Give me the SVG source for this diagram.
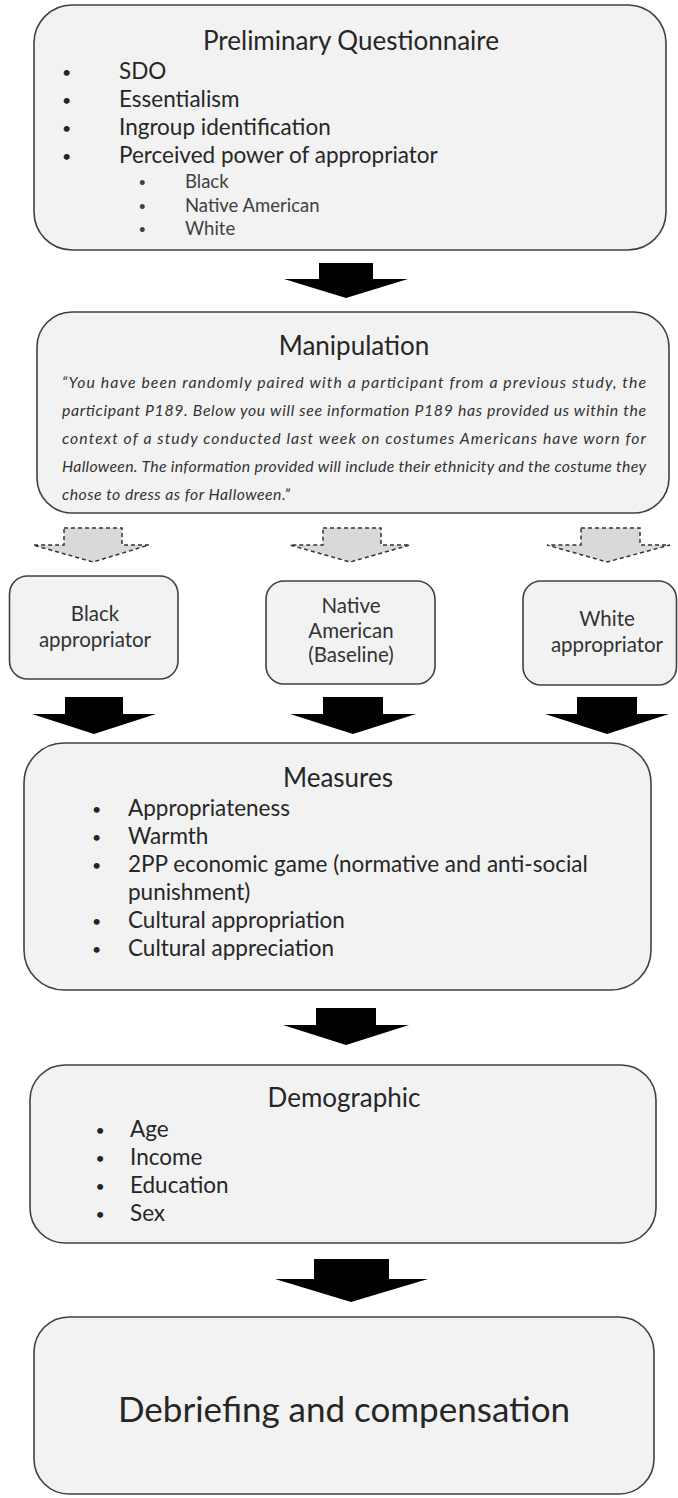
<svg xmlns="http://www.w3.org/2000/svg" width="678" height="1498" viewBox="0 0 678 1498">
<style>
.box{fill:#f2f2f2;stroke:#404040;stroke-width:1.6}
.t{font-family:Lato,"Open Sans","Liberation Sans",sans-serif;fill:#262626}
.title{font-size:26px;text-anchor:middle}
.item{font-size:22.5px}
.sub{font-size:18.5px;fill:#404040}
.it{font-size:15.8px;font-style:italic;fill:#333}
.small{font-size:20.5px;text-anchor:middle;fill:#333}
.big{font-size:35px;text-anchor:middle}
.b{font-size:16px}
.sb{font-size:13px}
.arr{fill:#000}
.darr{fill:#d9d9d9;stroke:#333;stroke-width:1.5;stroke-dasharray:4 3}
</style>
<rect width="678" height="1498" fill="#fff"/>
<g id="connectors">
<polygon class="arr" points="319,263 373,263 373,279 408,279 346,298 284,279 319,279"/>
<polygon class="darr" points="64,528 122,528 122,545 149,545 93,562 33,545 64,545"/>
<polygon class="darr" points="323,528 381,528 381,545 410,545 350,562 290,545 323,545"/>
<polygon class="darr" points="581,528 640,528 640,545 670,545 607,562 547,545 581,545"/>
<polygon class="arr" points="65,697 123,697 123,714 156,714 94,734 32,714 65,714"/>
<polygon class="arr" points="323,697 383,697 383,714 416,714 353,734 290,714 323,714"/>
<polygon class="arr" points="577,697 637,697 637,714 669,714 607,734 545,714 577,714"/>
<polygon class="arr" points="316,1008 376,1008 376,1025 409,1025 346,1045 283,1025 316,1025"/>
<polygon class="arr" points="314,1259 389,1259 389,1279 428,1279 351,1302 275,1279 314,1279"/>
</g>
<g id="preliminary">
<rect class="box" x="34" y="5" width="632" height="245" rx="38"/>
<text class="t title" x="351" y="50">Preliminary Questionnaire</text>
<g class="t">
<text class="b" x="62" y="77.5">•</text><text class="item" x="119" y="79">SDO</text>
<text class="b" x="62" y="105.5">•</text><text class="item" x="119" y="107">Essentialism</text>
<text class="b" x="62" y="133.5">•</text><text class="item" x="119" y="135">Ingroup identification</text>
<text class="b" x="62" y="161.5">•</text><text class="item" x="119" y="163">Perceived power of appropriator</text>
</g>
<g class="t sub">
<text class="sb" x="138.5" y="186.5">•</text><text x="185" y="188">Black</text>
<text class="sb" x="138.5" y="210.5">•</text><text x="185" y="212">Native American</text>
<text class="sb" x="138.5" y="233.5">•</text><text x="185" y="235">White</text>
</g>
</g>
<g id="manipulation">
<rect class="box" x="37" y="312" width="632" height="201" rx="35"/>
<text class="t title" x="354" y="355">Manipulation</text>
<g class="t it">
<text x="62" y="388" textLength="584" lengthAdjust="spacing">“You have been randomly paired with a participant from a previous study, the</text>
<text x="62" y="416" textLength="584" lengthAdjust="spacing">participant P189. Below you will see information P189 has provided us within the</text>
<text x="62" y="444" textLength="584" lengthAdjust="spacing">context of a study conducted last week on costumes Americans have worn for</text>
<text x="62" y="472" textLength="584" lengthAdjust="spacing">Halloween. The information provided will include their ethnicity and the costume they</text>
<text x="62" y="500" textLength="228" lengthAdjust="spacing">chose to dress as for Halloween.”</text>
</g>
</g>
<g id="black">
<rect class="box" x="9.5" y="576" width="168.5" height="103" rx="18"/>
<text class="t small" x="95" y="621">Black</text>
<text class="t small" x="95" y="647">appropriator</text>
</g>
<g id="native">
<rect class="box" x="266" y="581" width="169" height="103" rx="18"/>
<text class="t small" x="351" y="613">Native</text>
<text class="t small" x="351" y="638">American</text>
<text class="t small" x="351" y="662">(Baseline)</text>
</g>
<g id="white">
<rect class="box" x="523" y="581" width="153.5" height="104" rx="18"/>
<text class="t small" x="607" y="626">White</text>
<text class="t small" x="607" y="652">appropriator</text>
</g>
<g id="measures">
<rect class="box" x="24" y="743" width="627" height="247" rx="40"/>
<text class="t title" x="338" y="787">Measures</text>
<g class="t">
<text class="b" x="92" y="814.5">•</text><text class="item" x="128" y="816">Appropriateness</text>
<text class="b" x="92" y="842.5">•</text><text class="item" x="128" y="844">Warmth</text>
<text class="b" x="92" y="870.5">•</text><text class="item" x="128" y="872">2PP economic game (normative and anti-social</text>
<text class="item" x="128" y="900">punishment)</text>
<text class="b" x="92" y="926.5">•</text><text class="item" x="128" y="928">Cultural appropriation</text>
<text class="b" x="92" y="954.5">•</text><text class="item" x="128" y="956">Cultural appreciation</text>
</g>
</g>
<g id="demographic">
<rect class="box" x="30" y="1065" width="626" height="178" rx="35"/>
<text class="t title" x="344" y="1107">Demographic</text>
<g class="t">
<text class="b" x="95.5" y="1135.5">•</text><text class="item" x="130" y="1137">Age</text>
<text class="b" x="95.5" y="1163.5">•</text><text class="item" x="130" y="1165">Income</text>
<text class="b" x="95.5" y="1191.5">•</text><text class="item" x="130" y="1193">Education</text>
<text class="b" x="95.5" y="1219.5">•</text><text class="item" x="130" y="1221">Sex</text>
</g>
</g>
<g id="debriefing">
<rect class="box" x="34" y="1317" width="620" height="177" rx="35"/>
<text class="t big" x="344" y="1422">Debriefing and compensation</text>
</g>
</svg>
